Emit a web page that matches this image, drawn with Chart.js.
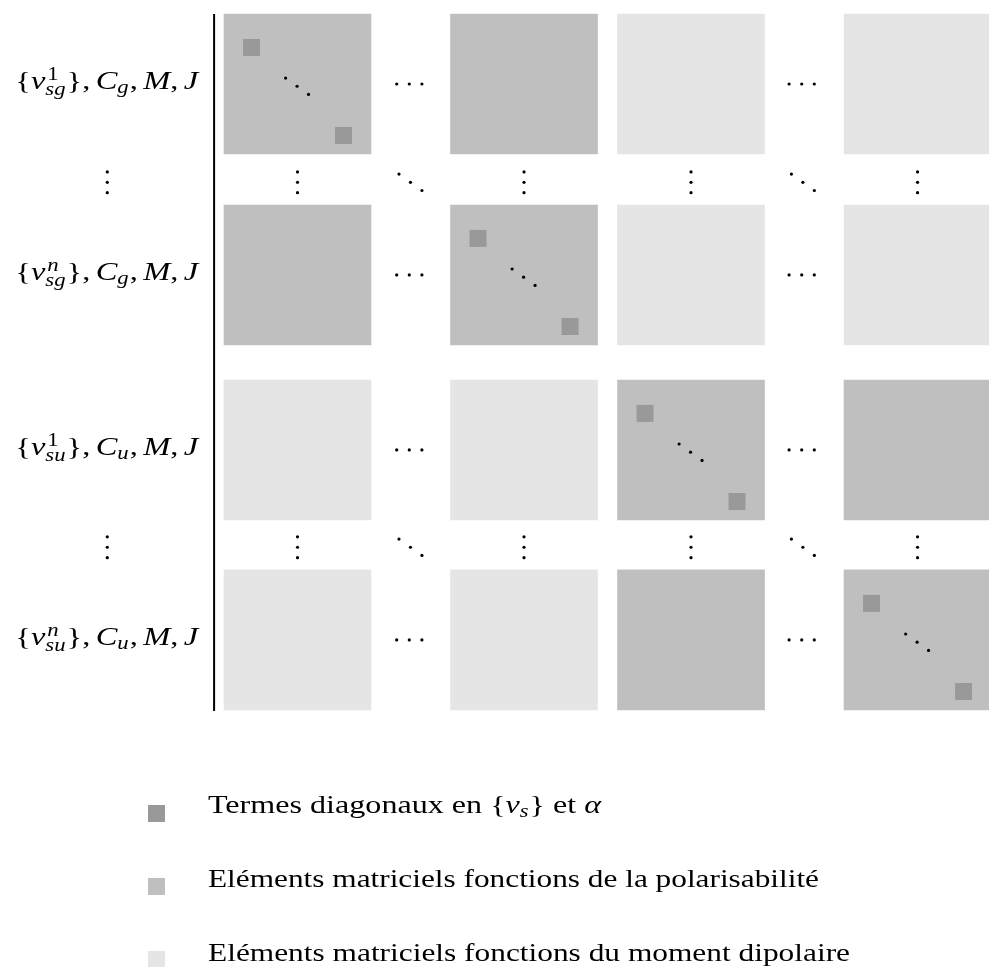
<!DOCTYPE html>
<html>
<head>
<meta charset="utf-8">
<script src="https://cdn.jsdelivr.net/npm/chart.js@4.4.1/dist/chart.umd.min.js"></script>
<style>
html,body{margin:0;padding:0;background:#ffffff;overflow:hidden;}
#c{display:block;}
</style>
</head>
<body>
<canvas id="c" width="989" height="967"></canvas>
<script>
// ===================== DATA =====================
// Row / column blocks of the matrix (same ordering for rows and columns)
const rowLabels = [
  '\\{v^1_{sg}\\}, C_g, M, J',
  '\\{v^n_{sg}\\}, C_g, M, J',
  '\\{v^1_{su}\\}, C_u, M, J',
  '\\{v^n_{su}\\}, C_u, M, J'
];
// Kind of matrix elements in each block: 2 = fonctions de la polarisabilité, 1 = fonctions du moment dipolaire
const blockKind = [
  [2, 2, 1, 1],
  [2, 2, 1, 1],
  [1, 1, 2, 2],
  [1, 1, 2, 2]
];
// Column holding the diagonal terms for each row block
const diagonalColumn = [0, 1, 2, 3];
// Legend entries (kind 3 = termes diagonaux)
const legendKinds = [3, 2, 1];
const legendLabels = [
  'Termes diagonaux en $\\{v_s\\}$ et $α$',
  'Eléments matriciels fonctions de la polarisabilité',
  'Eléments matriciels fonctions du moment dipolaire'
];

// ===================== LAYOUT (scale units: 1 x-unit = one block width, 1 y-unit = one block height) =====================
const LAYOUT = {
  xMin: -1.5238, xMax: 5.2041,
  yMin: -0.1, yMax: 6.8071,
  colCenter: [0.5, 2.041, 3.177, 4.718],
  rowTop: [0, 1.364, 2.614, 3.971],
  hdotsX: [1.2605, 3.930],
  gapY: [1.202, 3.809],
  labelVdotsX: -0.794,
  labelRight: -0.1748, labelWidth: 183, labelBaseline: 5,
  ruleX: -0.0673, ruleTop: 0, ruleBottom: 4.979,
  diagTL: [0.187, 0.239], diagBR: [0.813, 0.868],
  ddotsCenter: [0.497, 0.516], ddotsStep: [0.078, 0.0586],
  hdotsStep: 0.0857, vdotsStep: 0.0743,
  legendMarkX: -0.4592, legendTextX: -0.1088,
  legendMarkY: [5.7107, 6.2321, 6.7536],
  legendTextY: [5.707, 6.239, 6.764],
  legendWidths: [393, 611, 642],
  blockPx: 147, markRadius: 12.02
};
const COLORS = {1: '#e5e5e5', 2: '#bfbfbf', 3: '#999999'};
const FONT = '"Liberation Serif", "Times New Roman", serif';
const FSIZE = 26;

// ===================== DATASETS =====================
const blockData = {1: [], 2: []};
blockKind.forEach((row, r) => row.forEach((k, c) => {
  blockData[k].push({x: LAYOUT.colCenter[c], y: [LAYOUT.rowTop[r], LAYOUT.rowTop[r] + 1]});
}));
const diagPoints = [];
const dotPoints = [];
diagonalColumn.forEach((c, r) => {
  const left = LAYOUT.colCenter[c] - 0.5, top = LAYOUT.rowTop[r];
  diagPoints.push({x: left + LAYOUT.diagTL[0], y: top + LAYOUT.diagTL[1]});
  diagPoints.push({x: left + LAYOUT.diagBR[0], y: top + LAYOUT.diagBR[1]});
  for (let k = -1; k <= 1; k++) dotPoints.push({x: left + LAYOUT.ddotsCenter[0] + k * LAYOUT.ddotsStep[0], y: top + LAYOUT.ddotsCenter[1] + k * LAYOUT.ddotsStep[1]});
});
LAYOUT.rowTop.forEach(t => LAYOUT.hdotsX.forEach(hx => {
  for (let k = -1; k <= 1; k++) dotPoints.push({x: hx + k * LAYOUT.hdotsStep, y: t + 0.5});
}));
LAYOUT.gapY.forEach(gy => {
  [LAYOUT.labelVdotsX, ...LAYOUT.colCenter].forEach(vx => {
    for (let k = -1; k <= 1; k++) dotPoints.push({x: vx, y: gy + k * LAYOUT.vdotsStep});
  });
  LAYOUT.hdotsX.forEach(hx => {
    for (let k = -1; k <= 1; k++) dotPoints.push({x: hx + 0.008 + k * LAYOUT.ddotsStep[0], y: gy + k * LAYOUT.ddotsStep[1]});
  });
});
const legendPoints = legendKinds.map((k, i) => ({x: LAYOUT.legendMarkX, y: LAYOUT.legendMarkY[i]}));

// ===================== MATH TEXT =====================
function fnt(size, it) { return (it ? 'italic ' : '') + size.toFixed(2) + 'px ' + FONT; }
function parseMath(src) {
  const out = []; let i = 0;
  const readArg = () => {
    if (src[i] === '{') { const j = src.indexOf('}', i); const s = src.slice(i + 1, j); i = j + 1; return s; }
    return src[i++];
  };
  while (i < src.length) {
    const ch = src[i];
    if (ch === '\\') { out.push({t: src[i + 1], i: false}); i += 2; continue; }
    if (ch === '^' || ch === '_') {
      const sc = {script: true, sup: null, sub: null};
      while (src[i] === '^' || src[i] === '_') { const k = src[i]; i++; const a = readArg(); if (k === '^') sc.sup = a; else sc.sub = a; }
      out.push(sc); continue;
    }
    if (ch === ' ') { i++; continue; }
    if (ch === ',') { out.push({t: ',', i: false}); out.push({sp: 0.1667}); i++; continue; }
    out.push({t: ch, i: /[A-Za-zα-ω]/.test(ch)}); i++;
  }
  return out;
}
function parseText(src) {
  const out = [];
  src.split('$').forEach((p, k) => { if (k % 2) out.push(...parseMath(p)); else if (p) out.push({t: p, i: false}); });
  return out;
}
function layoutTokens(ctx, toks, size) {
  let x = 0, prevIt = false; const ops = []; const ss = size * 0.7;
  for (const tk of toks) {
    if (tk.sp !== undefined) { x += tk.sp * size; prevIt = false; continue; }
    if (tk.script) {
      let w = 0;
      if (tk.sup != null) {
        const f = fnt(ss, /[a-z]/i.test(tk.sup)); ctx.font = f;
        const off = prevIt ? 0.06 * size : 0;
        ops.push({t: tk.sup, f, x: x + off, dy: -0.34 * size});
        w = Math.max(w, off + ctx.measureText(tk.sup).width);
      }
      if (tk.sub != null) {
        const f = fnt(ss, /[a-z]/i.test(tk.sub)); ctx.font = f;
        ops.push({t: tk.sub, f, x: x, dy: (tk.sup != null ? 0.24 : 0.17) * size});
        w = Math.max(w, ctx.measureText(tk.sub).width);
      }
      x += w + 0.03 * size; prevIt = false; continue;
    }
    const f = fnt(size, tk.i); ctx.font = f;
    ops.push({t: tk.t, f, x, dy: 0});
    x += ctx.measureText(tk.t).width; prevIt = tk.i;
  }
  return {ops, width: x};
}
function drawOps(ctx, lay, x0, y0, sx) {
  ctx.save();
  ctx.translate(x0, y0); ctx.scale(sx, 1);
  ctx.fillStyle = '#000'; ctx.textBaseline = 'alphabetic'; ctx.textAlign = 'left';
  lay.ops.forEach(o => { ctx.font = o.f; ctx.fillText(o.t, o.x, o.dy); });
  ctx.restore();
}

const textPlugin = {
  id: 'matrixText',
  afterDatasetsDraw(chart) {
    const ctx = chart.ctx, xs = chart.scales.x, ys = chart.scales.y;
    const labLays = rowLabels.map(s => layoutTokens(ctx, parseMath(s), FSIZE));
    const sxLab = LAYOUT.labelWidth / labLays[0].width;
    labLays.forEach((lay, r) => {
      const yc = ys.getPixelForValue(LAYOUT.rowTop[r] + 0.5);
      const xr = xs.getPixelForValue(LAYOUT.labelRight);
      drawOps(ctx, lay, xr - lay.width * sxLab, yc + LAYOUT.labelBaseline, sxLab);
    });
    legendLabels.forEach((s, i) => {
      const lay = layoutTokens(ctx, parseText(s), FSIZE);
      const sx = LAYOUT.legendWidths[i] / lay.width;
      drawOps(ctx, lay, xs.getPixelForValue(LAYOUT.legendTextX), ys.getPixelForValue(LAYOUT.legendTextY[i]), sx);
    });
  }
};

Chart.defaults.font.family = FONT;
new Chart(document.getElementById('c'), {
  type: 'scatter',
  data: {
    datasets: [
      {type: 'bar', label: 'polarisabilité', data: blockData[2], backgroundColor: COLORS[2], borderWidth: 0, barThickness: LAYOUT.blockPx, grouped: false, order: 5},
      {type: 'bar', label: 'moment dipolaire', data: blockData[1], backgroundColor: COLORS[1], borderWidth: 0, barThickness: LAYOUT.blockPx, grouped: false, order: 5},
      {type: 'scatter', label: 'termes diagonaux', data: diagPoints, pointStyle: 'rect', pointRadius: LAYOUT.markRadius, pointHoverRadius: LAYOUT.markRadius, backgroundColor: COLORS[3], borderWidth: 0, order: 3},
      {type: 'scatter', label: 'ellipses', data: dotPoints, pointStyle: 'circle', pointRadius: 1.6, backgroundColor: '#000', borderWidth: 0, order: 1},
      {type: 'line', label: 'rule', data: [{x: LAYOUT.ruleX, y: LAYOUT.ruleTop}, {x: LAYOUT.ruleX, y: LAYOUT.ruleBottom}], borderColor: '#000', borderWidth: 2, pointRadius: 0, order: 1},
      {type: 'scatter', label: 'legend', data: legendPoints, pointStyle: 'rect', pointRadius: LAYOUT.markRadius, backgroundColor: legendKinds.map(k => COLORS[k]), borderWidth: 0, order: 2}
    ]
  },
  options: {
    responsive: false,
    animation: false,
    devicePixelRatio: 1,
    layout: {padding: 0, autoPadding: false},
    events: [],
    scales: {
      x: {type: 'linear', min: LAYOUT.xMin, max: LAYOUT.xMax, display: false, offset: false},
      y: {type: 'linear', min: LAYOUT.yMin, max: LAYOUT.yMax, reverse: true, display: false, offset: false}
    },
    plugins: {legend: {display: false}, tooltip: {enabled: false}}
  },
  plugins: [textPlugin]
});
</script>
</body>
</html>
